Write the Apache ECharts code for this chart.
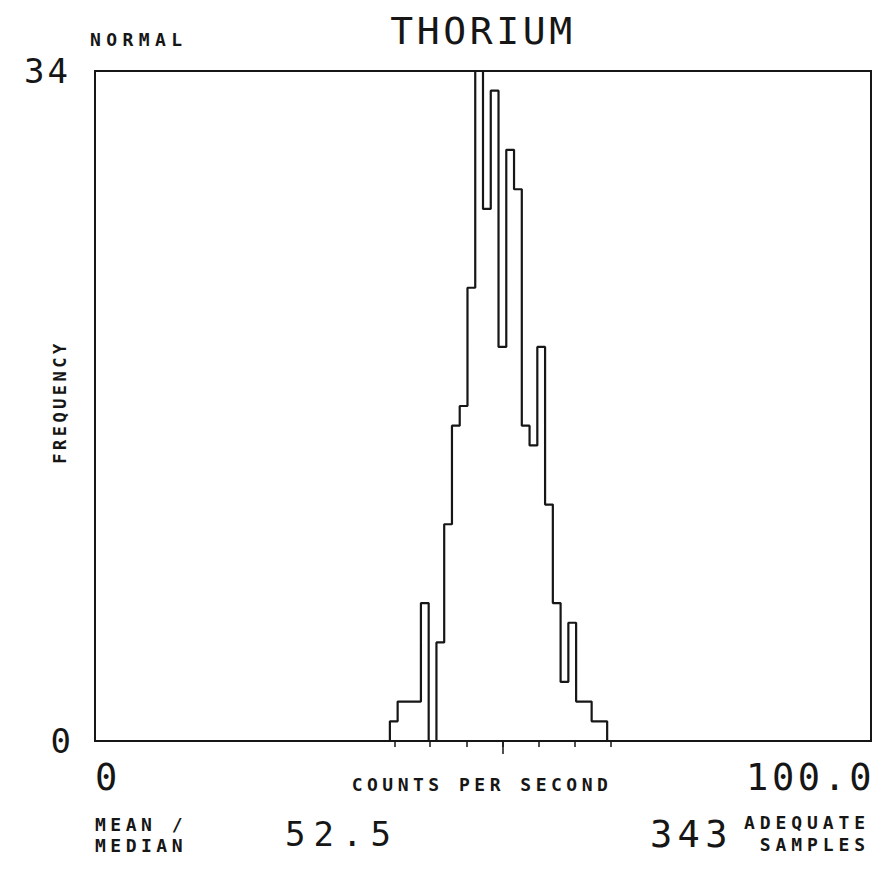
<!DOCTYPE html>
<html>
<head>
<meta charset="utf-8">
<script src="https://cdn.jsdelivr.net/npm/echarts@6/dist/echarts.min.js"></script>
<style>
  html, body { margin: 0; padding: 0; background: #ffffff; }
  #chart { width: 895px; height: 872px; }
</style>
</head>
<body>
<div id="chart"></div>
<script>
// ---- data ----
var binStarts = [38,39,40,41,42,43,44,45,46,47,48,49,50,51,52,53,54,55,56,57,58,59,60,61,62,63,64,65];
var binWidth = 1;
var counts    = [1, 2, 2, 2, 7, 0, 5,11,16,17,23,34,27,33,20,30,28,16,15,20,12, 7, 3, 6, 2, 2, 1, 1];
var sdTicks = [38.6, 43.2, 47.85, 52.5, 57.15, 61.8, 66.4];
var meanValue = 52.5;
var xMin = 0, xMax = 100, yMin = 0, yMax = 34;
var title = 'THORIUM';
var distLabel = 'NORMAL';
var yAxisName = 'FREQUENCY';
var xAxisName = 'COUNTS PER SECOND';
var meanText = '52.5';
var samplesText = '343';

// step outline points
var stepData = [[binStarts[0], 0]];
for (var i = 0; i < binStarts.length; i++) stepData.push([binStarts[i], counts[i]]);
stepData.push([binStarts[binStarts.length - 1] + binWidth, 0]);

var FONT = '"DejaVu Sans Mono", "Liberation Mono", monospace';
var INK = '#161616';
function txt(text, x, y, size, align, valign, weight, rotation) {
  return {
    type: 'text', silent: true, x: x, y: y, rotation: rotation || 0,
    style: { text: text, x: 0, y: 0, fill: INK, font: (weight || 'normal') + ' ' + size + 'px ' + FONT,
             textAlign: align, textVerticalAlign: valign }
  };
}

var chart = echarts.init(document.getElementById('chart'), null, { renderer: 'svg' });
chart.setOption({
  animation: false,
  backgroundColor: '#ffffff',
  grid: { left: 95, right: 24, top: 71, bottom: 131, show: true, borderColor: INK, borderWidth: 2, backgroundColor: 'transparent' },
  xAxis: [
    { type: 'value', min: xMin, max: xMax, position: 'bottom',
      axisLine: { show: false }, splitLine: { show: false },
      axisLabel: { show: false },
      axisTick: { show: true, customValues: sdTicks, length: 6, inside: false, lineStyle: { color: INK, width: 1.5 } } },
    { type: 'value', min: xMin, max: xMax, position: 'bottom',
      axisLine: { show: false }, splitLine: { show: false },
      axisLabel: { show: false },
      axisTick: { show: true, customValues: [meanValue], length: 13, inside: false, lineStyle: { color: INK, width: 1.5 } } }
  ],
  yAxis: { type: 'value', min: yMin, max: yMax,
    axisLine: { show: false }, splitLine: { show: false }, axisTick: { show: false },
    axisLabel: { show: true, customValues: [yMin, yMax], margin: 24, color: INK,
      fontFamily: FONT, fontSize: 34, align: 'right' } },
  series: [{
    type: 'line', xAxisIndex: 0, step: 'end', data: stepData, showSymbol: false, symbol: 'none',
    silent: true, clip: false,
    lineStyle: { color: INK, width: 2.2 }
  }],
  graphic: [
    txt(title, 483, 31, 38, 'center', 'middle'),
    txt(distLabel, 90, 39, 18, 'left', 'middle', 'bold'),
    txt(yAxisName, 60, 402, 17, 'center', 'middle', 'bold', Math.PI / 2),
    txt('0', 95, 777, 37, 'left', 'middle'),
    txt('100.0', 875, 777, 37, 'right', 'middle'),
    txt(xAxisName, 482, 784, 18, 'center', 'middle', 'bold'),
    txt('MEAN /', 95, 824, 18, 'left', 'middle', 'bold'),
    txt('MEDIAN', 95, 845, 18, 'left', 'middle', 'bold'),
    txt(meanText, 285, 834, 34, 'left', 'middle'),
    txt(samplesText, 650, 834, 37, 'left', 'middle'),
    txt('ADEQUATE', 870, 822, 18, 'right', 'middle', 'bold'),
    txt('SAMPLES', 870, 844, 18, 'right', 'middle', 'bold')
  ]
});

// plotter-style letter spacing
var spacing = { 'THORIUM': 3.6, 'NORMAL': 5.4, 'FREQUENCY': 3.5, '0': 0, '34': 3, '100.0': 3.5,
  'COUNTS PER SECOND': 4.5, 'MEAN /': 4.5, 'MEDIAN': 4.5, '52.5': 8, '343': 5.3, 'ADEQUATE': 4.9, 'SAMPLES': 4.9 };
var texts = document.querySelectorAll('#chart svg text');
for (var j = 0; j < texts.length; j++) {
  var t = texts[j].textContent;
  if (spacing.hasOwnProperty(t)) texts[j].style.letterSpacing = spacing[t] + 'px';
}
</script>
</body>
</html>
